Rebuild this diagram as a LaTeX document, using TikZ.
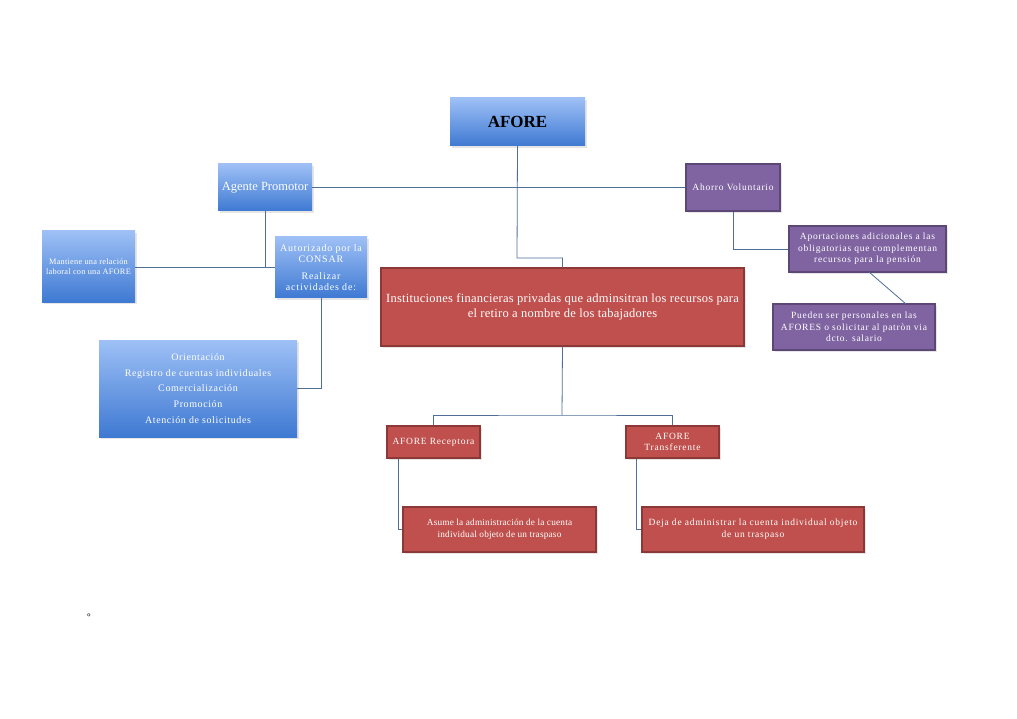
\documentclass[tikz,border=0pt]{standalone}
\usepackage{fontspec}
\setmainfont{Liberation Serif}
\newfontfamily\spA[LetterSpace=8]{Liberation Serif}
\newfontfamily\spB[LetterSpace=6]{Liberation Serif}
\newfontfamily\spC[LetterSpace=3]{Liberation Serif}
\newfontfamily\spD[LetterSpace=2]{Liberation Serif}
\usetikzlibrary{shadows}
\definecolor{bluetop}{RGB}{158,192,246}
\definecolor{bluebot}{RGB}{62,121,210}
\definecolor{redfill}{RGB}{192,80,77}
\definecolor{redline}{RGB}{140,56,54}
\definecolor{purfill}{RGB}{128,100,162}
\definecolor{purline}{RGB}{92,71,118}
\definecolor{conn}{RGB}{79,111,153}
\begin{document}
\begin{tikzpicture}[x=1pt,y=-1pt,
  bluebox/.style={draw=none,top color=bluetop,bottom color=bluebot,text=white,align=center,inner sep=0pt,
    drop shadow={shadow xshift=1.5pt,shadow yshift=-2pt,opacity=0.2}},
  redbox/.style={draw=redline,line width=1.2pt,fill=redfill,text=white,align=center,inner sep=0pt,
    drop shadow={shadow xshift=1.5pt,shadow yshift=-2pt,opacity=0.2}},
  purbox/.style={draw=purline,line width=1.2pt,fill=purfill,text=white,align=center,inner sep=0pt,
    drop shadow={shadow xshift=1.5pt,shadow yshift=-2pt,opacity=0.2}},
  link/.style={draw=conn,line width=0.8pt}]
\useasboundingbox (0,0) rectangle (1017,719);
\fill[white] (0,0) rectangle (1017,719);
% boxes
\node[bluebox,minimum width=135pt,minimum height=48pt,text=black,font=\bfseries\fontsize{17}{20}\selectfont] (afore) at (517.5,122) {AFORE};
\node[bluebox,minimum width=94pt,minimum height=47pt,font=\fontsize{12.5}{14}\selectfont] (agente) at (265,187.5) {Agente Promotor};
\node[bluebox,minimum width=93pt,minimum height=71pt,font=\spC\fontsize{8.3}{10}\selectfont] (mantiene) at (88.5,266.5) {Mantiene una relación\\laboral con una AFORE};
\node[bluebox,minimum width=92pt,minimum height=61pt,font=\spA\fontsize{10}{11.5}\selectfont] (autor) at (321,267.5) {Autorizado por la\\CONSAR\\[5pt]Realizar\\actividades de:};
\node[bluebox,minimum width=198pt,minimum height=97pt,font=\spB\fontsize{10}{15.7}\selectfont] (activ) at (198,388.5) {Orientación\\Registro de cuentas individuales\\Comercialización\\Promoción\\Atención de solicitudes};
\node[redbox,minimum width=363pt,minimum height=78pt,font=\spD\fontsize{12.5}{14.5}\selectfont] (inst) at (562.5,307) {Instituciones financieras privadas que adminsitran los recursos para\\el retiro a nombre de los tabajadores};
\node[purbox,minimum width=94pt,minimum height=47pt,font=\spA\fontsize{9.5}{11}\selectfont] (ahorro) at (733,187.5) {Ahorro Voluntario};
\node[purbox,minimum width=157pt,minimum height=46pt,font=\spA\fontsize{9.5}{11.5}\selectfont] (aport) at (867.5,249) {Aportaciones adicionales a las\\obligatorias que complementan\\recursos para la pensión};
\node[purbox,minimum width=162pt,minimum height=46pt,font=\spA\fontsize{9.5}{11.5}\selectfont] (pueden) at (854,327) {Pueden ser personales en las\\AFORES o solicitar al patròn via\\dcto. salario};
\node[redbox,minimum width=93pt,minimum height=32pt,font=\spA\fontsize{9.5}{11}\selectfont] (recep) at (433.5,442) {AFORE Receptora};
\node[redbox,minimum width=93pt,minimum height=32pt,font=\spA\fontsize{9.5}{11.5}\selectfont] (transf) at (672.5,442) {AFORE\\Transferente};
\node[redbox,minimum width=193pt,minimum height=45pt,font=\spD\fontsize{9.3}{12}\selectfont] (asume) at (499.5,529.5) {Asume la administración de la cuenta\\individual objeto de un traspaso};
\node[redbox,minimum width=222pt,minimum height=45pt,font=\spA\fontsize{9.5}{12}\selectfont] (deja) at (753,529.5) {Deja de administrar la cuenta individual objeto\\de un traspaso};
\node[font=\fontsize{10}{11}\selectfont] (ord) at (89,617) {º};
% connectors
\coordinate (j1) at (517,258);
\draw[link] (afore.south) -- (j1) -| (inst.north);
\draw[link] (agente.east) -- (ahorro.west);
\coordinate (j2) at (265,267);
\draw[link] (agente.south) -- (j2) -- (autor.west |- j2);
\draw[link] (mantiene.east |- j2) -- (j2);
\draw[link] (autor.south) |- (activ.east);
\draw[link] (ahorro.south) |- (aport.west);
\draw[link] (869,272) -- (906,304);
\coordinate (j3) at (562,415);
\draw[link] (inst.south) -- (j3);
\draw[link] (recep.north) |- (j3) -| (transf.north);
\draw[link] ([xshift=-35pt]recep.south) |- (asume.west);
\draw[link] ([xshift=-36pt]transf.south) |- (deja.west);
\end{tikzpicture}
\end{document}
